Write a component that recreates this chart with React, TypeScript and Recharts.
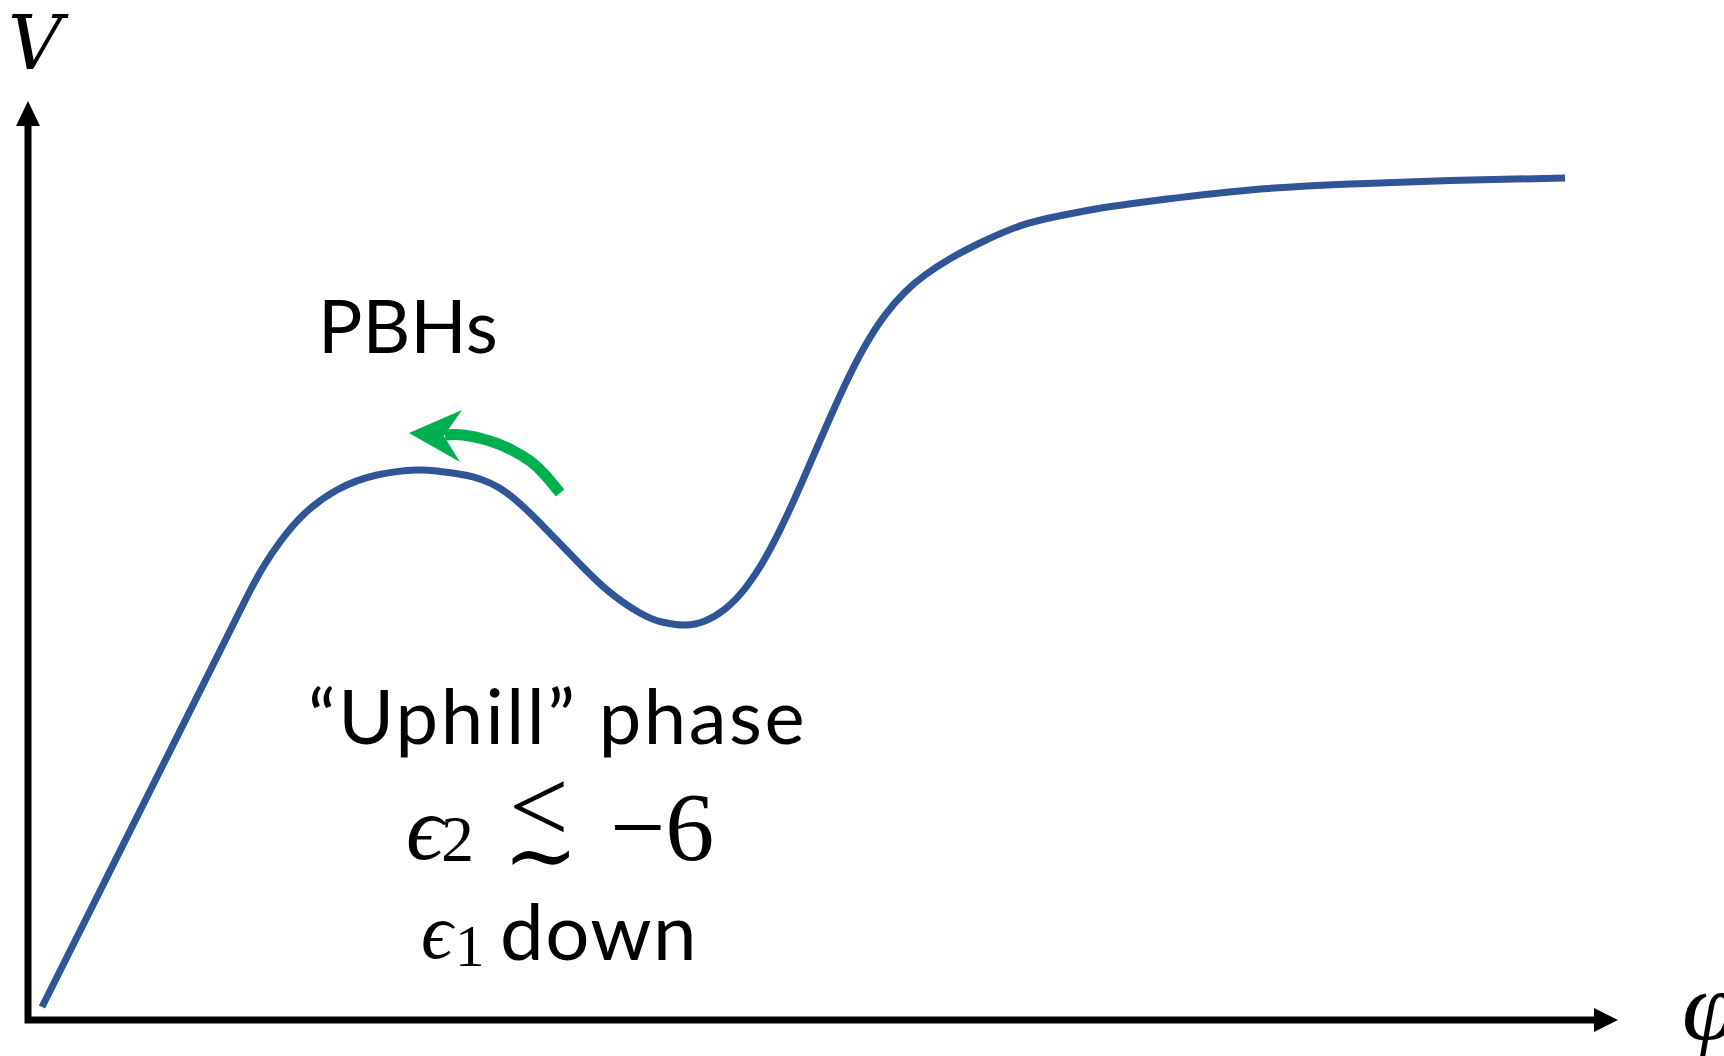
import { LineChart, Line, XAxis, YAxis, ReferenceDot } from "recharts";

// potential curve V(phi) (arbitrary units, 0..100 on both axes)
const phiValues = [
  0.88, 4.53, 8.3, 12.26, 13.96, 14.91, 15.85, 17.3, 19.43, 21.95, 24.47,
  25.91, 27.99, 30.13, 32.2, 34.28, 36.42, 38.49, 39.87, 41.32,
  42.58, 43.84, 45.09, 46.35, 47.61, 48.87, 50.13, 51.38, 52.64, 53.9, 55.16,
  56.42, 57.99, 59.87, 62.39, 64.91, 67.42, 70.57, 76.86, 83.14, 89.43, 96.67,
];
const potentialValues = [
  1.41, 14.04, 27.09, 40.8, 46.68, 49.62, 52.01, 54.95, 57.67, 59.3, 59.85,
  59.69, 59.09, 57.34, 54.08, 50.38, 46.79, 44.29, 43.31, 42.98,
  43.42, 44.72, 46.94, 50.21, 54.45, 59.3, 64.31, 69.1, 73.34, 76.71, 79.22,
  81.07, 82.83, 84.55, 86.41, 87.51, 88.33, 89.1, 90.32, 90.97, 91.35, 91.62,
];

// green "uphill" arrow shaft, head end -> tail
const arrowPhi = [26.23, 27.36, 29.06, 30.44, 31.57, 32.52, 33.46];
const arrowV = [63.66, 63.66, 63.0, 62.02, 60.83, 59.3, 57.35];
const arrowTip = { phi: 23.96, v: 63.87 };

// the two axes as one L-shaped frame (up the V axis, along the phi axis)
const framePhi = [0, 0, 99];
const frameV = [98, 0, 0];

const curveData = phiValues.map((phi, i) => ({ phi, v: potentialValues[i] }));
const arrowData = arrowPhi.map((phi, i) => ({ phi, v: arrowV[i] }));
const frameData = framePhi.map((phi, i) => ({ phi, v: frameV[i] }));

const BLUE = "#2F5597";
const GREEN = "#00B050";
const SANS = "Lato, 'Open Sans', sans-serif";
const SERIF = "'Liberation Serif', 'DejaVu Serif', serif";
const DSERIF = "'DejaVu Serif', serif";

const GreenHead = ({ cx, cy }: any) => (
  <polygon
    points={`${cx},${cy} ${cx + 53},${cy - 23} ${cx + 35},${cy + 3} ${cx + 51},${cy + 29}`}
    fill={GREEN}
  />
);

const UpHead = ({ cx, cy }: any) => (
  <polygon points={`${cx},${cy} ${cx - 12},${cy + 25} ${cx + 12},${cy + 25}`} fill="#000" />
);

const RightHead = ({ cx, cy }: any) => (
  <polygon points={`${cx},${cy} ${cx - 24},${cy - 12} ${cx - 24},${cy + 12}`} fill="#000" />
);

export default function App() {
  return (
    <div style={{ position: "relative", width: 1724, height: 1056, overflow: "hidden", background: "#fff" }}>
      <style>{`body{margin:0}`}</style>
      <LineChart
        width={1724}
        height={1056}
        margin={{ top: 101, right: 106, bottom: 36, left: 28 }}
      >
        <XAxis type="number" dataKey="phi" domain={[0, 100]} hide />
        <YAxis type="number" dataKey="v" domain={[0, 100]} hide />
        <Line
          data={frameData}
          dataKey="v"
          type="linear"
          stroke="#000"
          strokeWidth={7}
          strokeLinejoin="miter"
          dot={false}
          activeDot={false}
          isAnimationActive={false}
        />
        <Line
          data={curveData}
          dataKey="v"
          type="natural"
          stroke={BLUE}
          strokeWidth={7}
          dot={false}
          activeDot={false}
          isAnimationActive={false}
        />
        <Line
          data={arrowData}
          dataKey="v"
          type="natural"
          stroke={GREEN}
          strokeWidth={11}
          dot={false}
          activeDot={false}
          isAnimationActive={false}
        />
        <ReferenceDot x={arrowTip.phi} y={arrowTip.v} shape={GreenHead} ifOverflow="visible" />
        <ReferenceDot x={100} y={0} shape={RightHead} ifOverflow="visible" />
        <ReferenceDot x={0} y={100} shape={UpHead} ifOverflow="visible" />
      </LineChart>

      <svg
        width={1724}
        height={1056}
        style={{ position: "absolute", left: 0, top: 0, pointerEvents: "none" }}
      >
        <text x={8} y={69} fontFamily={DSERIF} fontStyle="italic" fontSize={75} fill="#000">V</text>
        <text x={1682} y={1040} fontFamily={SERIF} fontStyle="italic" fontSize={100} fill="#000">φ</text>

        <text x={318} y={353} fontFamily={SANS} fontSize={74} fill="#000">PBHs</text>
        <text x={308} y={744} fontFamily={SANS} fontSize={76} letterSpacing={2.5} fill="#000">
          “Uphill” phase
        </text>

        <text x={406} y={859} fontFamily={SERIF} fontStyle="italic" fontSize={92} fill="#000">ϵ</text>
        <text x={441} y={861} fontFamily={SERIF} fontSize={66} fill="#000">2</text>
        <text x={509} y={842} fontFamily={SERIF} fontSize={106} fill="#000">&lt;</text>
        <text x={503} y={886} fontFamily={DSERIF} fontSize={90} fill="#000">∼</text>
        <text x={610} y={860} fontFamily={SERIF} fontSize={98} fill="#000">−6</text>

        <text x={421} y={958} fontFamily={SERIF} fontStyle="italic" fontSize={78} fill="#000">ϵ</text>
        <text x={455} y={966} fontFamily={SERIF} fontSize={59} fill="#000">1</text>
        <text x={500} y={960} fontFamily={SANS} fontSize={78} letterSpacing={1.5} fill="#000">down</text>
      </svg>
    </div>
  );
}
